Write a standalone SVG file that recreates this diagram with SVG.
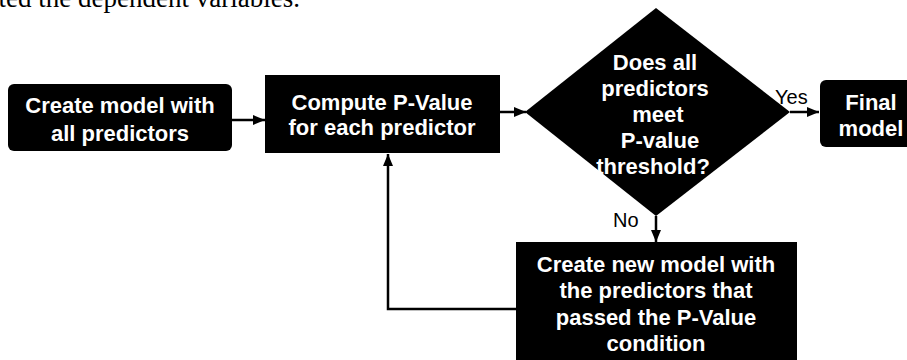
<svg xmlns="http://www.w3.org/2000/svg" width="907" height="360" viewBox="0 0 907 360">
  <defs>
    <marker id="arr" viewBox="0 0 12 10" refX="12" refY="5" markerWidth="12" markerHeight="10" markerUnits="userSpaceOnUse" orient="auto">
      <path d="M0,0 L12,5 L0,10 Z" fill="#000"/>
    </marker>
  </defs>
  <style>
    .box { fill: #000; }
    .t { font-family: "Liberation Sans", Arial, sans-serif; font-weight: bold; font-size: 22px; fill: #fff; text-anchor: middle; }
    .lbl { font-family: "Liberation Sans", Arial, sans-serif; font-size: 20px; fill: #000; }
    .edge { fill: none; stroke: #000; stroke-width: 2.5; }
    .doc { font-family: "Liberation Serif", "Times New Roman", serif; font-size: 27px; fill: #000; }
  </style>
  <rect width="907" height="360" fill="#fff"/>
  <text class="doc" x="300" y="7" text-anchor="end">ted the dependent variables.</text>

  <g id="connectors">
    <line class="edge" x1="232" y1="120" x2="265" y2="120" marker-end="url(#arr)"/>
    <line class="edge" x1="500" y1="112" x2="526" y2="112" marker-end="url(#arr)"/>
    <line class="edge" x1="790" y1="112" x2="819" y2="112" marker-end="url(#arr)"/>
    <line class="edge" x1="656" y1="216" x2="656" y2="242" marker-end="url(#arr)"/>
    <polyline class="edge" points="516,309 388,309 388,154" marker-end="url(#arr)"/>
    <text class="lbl" x="775" y="104">Yes</text>
    <text class="lbl" x="613" y="227">No</text>
  </g>

  <g id="n1">
    <rect class="box" x="8" y="84" width="224" height="67" rx="6"/>
    <text class="t" x="120" y="113">Create model with</text>
    <text class="t" x="120" y="141">all predictors</text>
  </g>

  <g id="n2">
    <rect class="box" x="265" y="75" width="235" height="78"/>
    <text class="t" x="382" y="110">Compute P-Value</text>
    <text class="t" x="382" y="135">for each predictor</text>
  </g>

  <g id="n3">
    <polygon class="box" points="525,112 656,8 790,112 656,216"/>
    <text class="t" x="655" y="70">Does all</text>
    <text class="t" x="655" y="96">predictors</text>
    <text class="t" x="658" y="122">meet</text>
    <text class="t" x="660" y="148">P-value</text>
    <text class="t" x="653" y="174">threshold?</text>
  </g>

  <g id="n4">
    <rect class="box" x="820" y="80" width="95" height="67" rx="6"/>
    <text class="t" x="871" y="110">Final</text>
    <text class="t" x="871" y="136">model</text>
  </g>

  <g id="n5">
    <rect class="box" x="516" y="242" width="281" height="125"/>
    <text class="t" x="656" y="272">Create new model with</text>
    <text class="t" x="656" y="298">the predictors that</text>
    <text class="t" x="656" y="325">passed the P-Value</text>
    <text class="t" x="656" y="351">condition</text>
  </g>
</svg>
